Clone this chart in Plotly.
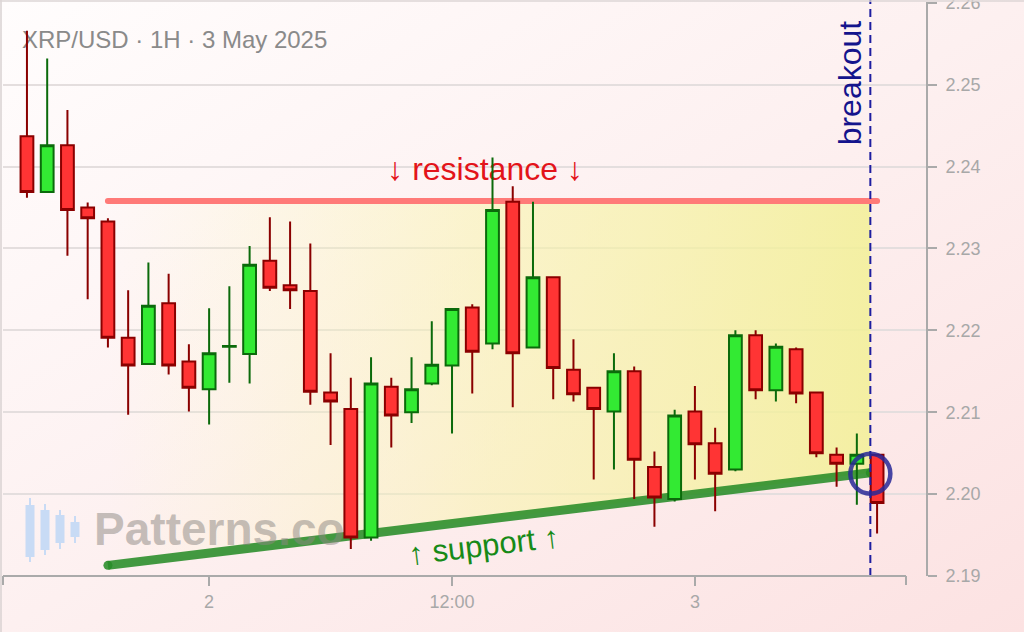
import base64
import plotly.graph_objects as go

# ---------------- data ----------------
times = [
    "2025-05-01 15:00", "2025-05-01 16:00", "2025-05-01 17:00", "2025-05-01 18:00",
    "2025-05-01 19:00", "2025-05-01 20:00", "2025-05-01 21:00", "2025-05-01 22:00",
    "2025-05-01 23:00", "2025-05-02 00:00", "2025-05-02 01:00", "2025-05-02 02:00",
    "2025-05-02 03:00", "2025-05-02 04:00", "2025-05-02 05:00", "2025-05-02 06:00",
    "2025-05-02 07:00", "2025-05-02 08:00", "2025-05-02 09:00", "2025-05-02 10:00",
    "2025-05-02 11:00", "2025-05-02 12:00", "2025-05-02 13:00", "2025-05-02 14:00",
    "2025-05-02 15:00", "2025-05-02 16:00", "2025-05-02 17:00", "2025-05-02 18:00",
    "2025-05-02 19:00", "2025-05-02 20:00", "2025-05-02 21:00", "2025-05-02 22:00",
    "2025-05-02 23:00", "2025-05-03 00:00", "2025-05-03 01:00", "2025-05-03 02:00",
    "2025-05-03 03:00", "2025-05-03 04:00", "2025-05-03 05:00", "2025-05-03 06:00",
    "2025-05-03 07:00", "2025-05-03 08:00", "2025-05-03 09:00",
]
opens = [2.2437, 2.2369, 2.2426, 2.2350, 2.2333, 2.2191, 2.2159, 2.2233, 2.2162, 2.2128,
         2.2180, 2.2171, 2.2285, 2.2255, 2.2248, 2.2124, 2.2104, 2.1947, 2.2131, 2.2100,
         2.2135, 2.2157, 2.2228, 2.2184, 2.2357, 2.2179, 2.2265, 2.2152, 2.2130, 2.2101,
         2.2150, 2.2033, 2.1994, 2.2101, 2.2062, 2.2030, 2.2194, 2.2127, 2.2177, 2.2124,
         2.2048, 2.2037, 2.2048]
highs = [2.2566, 2.2532, 2.2469, 2.2356, 2.2337, 2.2249, 2.2283, 2.2269, 2.2183, 2.2227,
         2.2254, 2.2303, 2.2338, 2.2333, 2.2306, 2.2172, 2.2142, 2.2167, 2.2142, 2.2167,
         2.2211, 2.2227, 2.2232, 2.2411, 2.2376, 2.2357, 2.2265, 2.2189, 2.2130, 2.2172,
         2.2156, 2.2052, 2.2103, 2.2132, 2.2081, 2.2200, 2.2200, 2.2184, 2.2179, 2.2125,
         2.2057, 2.2074, 2.2048]
lows = [2.2362, 2.2368, 2.2291, 2.2238, 2.2179, 2.2097, 2.2158, 2.2146, 2.2101, 2.2085,
        2.2136, 2.2135, 2.2248, 2.2226, 2.2109, 2.2060, 2.1933, 2.1943, 2.2057, 2.2087,
        2.2133, 2.2074, 2.2123, 2.2177, 2.2106, 2.2179, 2.2116, 2.2113, 2.2018, 2.2030,
        2.1994, 2.1960, 2.1991, 2.2018, 2.1979, 2.2028, 2.2116, 2.2113, 2.2111, 2.2045,
        2.2009, 2.1987, 2.1952]
closes = [2.2369, 2.2426, 2.2347, 2.2337, 2.2191, 2.2157, 2.2230, 2.2157, 2.2130, 2.2172,
          2.2181, 2.2280, 2.2252, 2.2249, 2.2125, 2.2113, 2.1947, 2.2135, 2.2096, 2.2128,
          2.2158, 2.2226, 2.2174, 2.2347, 2.2172, 2.2265, 2.2154, 2.2122, 2.2104, 2.2150,
          2.2042, 2.1996, 2.2096, 2.2061, 2.2025, 2.2194, 2.2127, 2.2180, 2.2123, 2.2050,
          2.2037, 2.2048, 2.1989]

resistance_x = ["2025-05-01 19:00", "2025-05-03 09:00"]
resistance_y = [2.2358, 2.2358]
support_x = ["2025-05-01 19:00", "2025-05-03 08:40"]
support_y = [2.1913, 2.2026]
breakout_time = "2025-05-03 08:40"
breakout_level = 2.2025

x_tickvals = ["2025-05-02 00:00", "2025-05-02 12:00", "2025-05-03 00:00"]
x_ticktext = ["2", "12:00", "3"]
y_tickvals = [2.19, 2.20, 2.21, 2.22, 2.23, 2.24, 2.25, 2.26]
y_ticktext = ["2.19", "2.20", "2.21", "2.22", "2.23", "2.24", "2.25", "2.26"]

title_text = "XRP/USD · 1H · 3 May 2025"

# ---------------- layout helpers ----------------
W, H = 1024, 632
ML, MR, MT, MB = 3, 98, 2, 56
PW, PH = W - ML - MR, H - MT - MB
X_RANGE = ["2025-05-01 13:49", "2025-05-03 11:25"]
Y_RANGE = [2.19, 2.2601]


def px(X):
    return (X - ML) / PW


def py(Y):
    return (H - MB - Y) / PH


FONT = "Liberation Sans, Arial, sans-serif"

fig = go.Figure()

# yellow triangle fill between resistance and support
fig.add_trace(go.Scatter(
    x=[resistance_x[0], support_x[1], support_x[1], support_x[0], resistance_x[0]],
    y=[resistance_y[0], resistance_y[1], support_y[1], support_y[0], resistance_y[0]],
    mode="lines", line=dict(width=0), fill="toself",
    fillgradient=dict(type="horizontal",
                      colorscale=[[0, "rgba(252,248,190,0.0)"],
                                  [0.5, "rgba(248,244,170,0.55)"],
                                  [1, "rgba(242,240,150,0.85)"]]),
    hoverinfo="skip", showlegend=False))

# resistance line
fig.add_trace(go.Scatter(
    x=resistance_x, y=resistance_y, mode="lines+markers",
    line=dict(color="#ff7a78", width=6),
    marker=dict(color="#ff7a78", size=6, line=dict(width=0)),
    hoverinfo="skip", showlegend=False))

# support line
fig.add_trace(go.Scatter(
    x=support_x, y=support_y, mode="lines+markers",
    line=dict(color="rgba(40,140,40,0.88)", width=9),
    marker=dict(color="rgba(40,140,40,0.88)", size=9, line=dict(width=0)),
    hoverinfo="skip", showlegend=False))

# texts that sit beneath the candles
fig.add_trace(go.Scatter(
    x=["2025-05-01 14:45"], y=[2.2552], mode="text", text=[title_text],
    textposition="middle right",
    textfont=dict(family=FONT, size=24, color="#8a8a8a"),
    hoverinfo="skip", showlegend=False))
fig.add_trace(go.Scatter(
    x=["2025-05-02 13:38"], y=[2.2394], mode="text", text=["↓ resistance ↓"],
    textposition="middle center",
    textfont=dict(family=FONT, size=32, color="#e3141a"),
    hoverinfo="skip", showlegend=False))
fig.add_trace(go.Scatter(
    x=["2025-05-01 18:19"], y=[2.1952], mode="text", text=["<b>Patterns.co</b>"],
    textposition="middle right",
    textfont=dict(family=FONT, size=46, color="rgba(140,135,130,0.5)"),
    hoverinfo="skip", showlegend=False))

# candles (on an overlaid subplot so they are drawn above the scatter layer)
fig.add_trace(go.Candlestick(
    x=times, open=opens, high=highs, low=lows, close=closes,
    xaxis="x2", yaxis="y2",
    increasing=dict(fillcolor="#33ea33", line=dict(color="#0b6a0b", width=2)),
    decreasing=dict(fillcolor="#ff3434", line=dict(color="#8a0000", width=2)),
    whiskerwidth=0, hoverinfo="skip", showlegend=False))

# ---------------- shapes ----------------
shapes = []
shapes.append(dict(type="line", xref="x", yref="paper", x0=breakout_time, x1=breakout_time,
                   y0=0, y1=1.004, line=dict(color="#1e1ea0", width=2, dash="8px,5px"),
                   layer="above"))
shapes.append(dict(type="circle", xref="x", yref="y", xsizemode="pixel", ysizemode="pixel",
                   xanchor=breakout_time, yanchor=breakout_level,
                   x0=-20, x1=20, y0=-20, y1=20,
                   line=dict(color="rgba(40,40,150,0.85)", width=4.5), layer="above"))
shapes.append(dict(type="line", xref="paper", yref="paper", x0=px(3), x1=px(906),
                   y0=0, y1=0, line=dict(color="#aaaaaa", width=2)))
for X in (3, 906):
    shapes.append(dict(type="line", xref="paper", yref="paper", x0=px(X), x1=px(X),
                       y0=0, y1=py(585), line=dict(color="#aaaaaa", width=2)))
shapes.append(dict(type="line", xref="paper", yref="paper", x0=px(1), x1=px(1),
                   y0=py(632), y1=py(0), line=dict(color="#d9d2d2", width=1.5)))
shapes.append(dict(type="line", xref="paper", yref="paper", x0=px(0), x1=px(1024),
                   y0=py(1), y1=py(1), line=dict(color="#ddd6d6", width=1.5)))
icon = [  # (x, body_top, body_bottom, wick_top, wick_bottom)
    (30, 505, 557, 498, 562),
    (45, 510, 550, 504, 555),
    (60, 515, 543, 510, 549),
    (75, 522, 537, 516, 543),
]
for X, bt, bb, wt, wb in icon:
    shapes.append(dict(type="line", xref="paper", yref="paper", x0=px(X), x1=px(X),
                       y0=py(wb), y1=py(wt), line=dict(color="#c8dbf5", width=2)))
    shapes.append(dict(type="rect", xref="paper", yref="paper", x0=px(X - 4.5), x1=px(X + 4.5),
                       y0=py(bb), y1=py(bt), fillcolor="#c8dbf5", line=dict(width=0)))

# ---------------- background gradient ----------------
svg = ('<svg xmlns="http://www.w3.org/2000/svg" width="1024" height="632" '
       'viewBox="0 0 1024 632" preserveAspectRatio="none">'
       '<defs><linearGradient id="g" x1="0" y1="0" x2="1" y2="1">'
       '<stop offset="0" stop-color="#fffdfd"/>'
       '<stop offset="0.5" stop-color="#fdf0f0"/>'
       '<stop offset="1" stop-color="#fce2e2"/>'
       '</linearGradient></defs>'
       '<rect width="1024" height="632" fill="url(#g)"/></svg>')
bg_src = "data:image/svg+xml;base64," + base64.b64encode(svg.encode()).decode()

annotations = [
    dict(text="breakout", xref="x", yref="paper", x=breakout_time, y=py(83),
         xanchor="center", yanchor="middle",
         xshift=-20, textangle=-90, showarrow=False,
         font=dict(family=FONT, size=32, color="#14148c")),
    dict(text="↑ support ↑", xref="x", yref="y", x="2025-05-02 13:35", y=2.1937,
         xanchor="center", yanchor="middle",
         textangle=-6.8, showarrow=False,
         font=dict(family=FONT, size=31, color="#178a17")),
]

fig.update_layout(
    width=W, height=H,
    margin=dict(l=ML, r=MR, t=MT, b=MB, pad=0, autoexpand=False),
    paper_bgcolor="#fdf0f0",
    plot_bgcolor="rgba(0,0,0,0)",
    showlegend=False,
    boxgap=0.2, boxgroupgap=0.21,
    shapes=shapes,
    annotations=annotations,
    images=[dict(source=bg_src, xref="paper", yref="paper",
                 x=-ML / PW, y=1 + MT / PH, sizex=W / PW, sizey=H / PH,
                 xanchor="left", yanchor="top", sizing="stretch", layer="below")],
    xaxis=dict(
        type="date", range=X_RANGE, automargin=False,
        rangeslider=dict(visible=False),
        showgrid=False, zeroline=False, showline=False,
        tickvals=x_tickvals, ticktext=x_ticktext,
        ticks="outside", ticklen=9, tickwidth=2, tickcolor="#aaaaaa",
        tickfont=dict(family=FONT, size=18, color="#a8a8a8"),
    ),
    yaxis=dict(
        side="right", range=Y_RANGE, automargin=False,
        tickvals=y_tickvals, ticktext=y_ticktext,
        showgrid=True, gridcolor="#e4dede", gridwidth=1.5,
        zeroline=False, showline=True, linecolor="#aaaaaa", linewidth=2,
        ticks="outside", ticklen=9, tickwidth=2, tickcolor="#aaaaaa",
        ticklabelstandoff=5, ticklabeloverflow="allow",
        tickfont=dict(family=FONT, size=18, color="#a8a8a8"),
    ),
    xaxis2=dict(type="date", range=X_RANGE, overlaying="x", anchor="y2", automargin=False,
                visible=False, rangeslider=dict(visible=False)),
    yaxis2=dict(range=Y_RANGE, overlaying="y", anchor="x2", visible=False, automargin=False),
)

fig.write_html("out.html", config={"displayModeBar": False},
               post_script="document.body.style.margin='0px';")
